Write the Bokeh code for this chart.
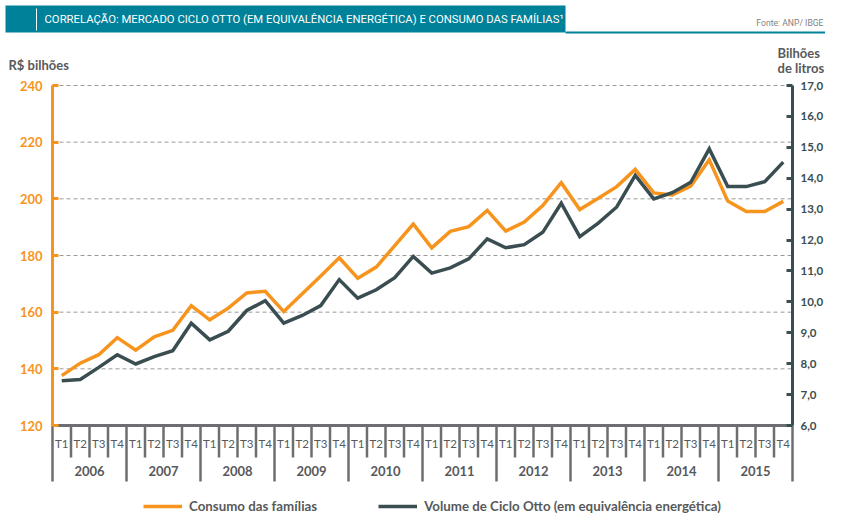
from bokeh.plotting import figure
from bokeh.models import (Range1d, LinearAxis, FixedTicker, Label, BoxAnnotation,
                          Legend, LegendItem, CustomJSTickFormatter, ColumnDataSource)
from bokeh.core.properties import value
from bokeh.embed import file_html
from bokeh.resources import INLINE

# ---------------- data ----------------
years = ["2006", "2007", "2008", "2009", "2010", "2011", "2012", "2013", "2014", "2015"]
quarters = ["T1", "T2", "T3", "T4"]

consumo = [  # R$ bilhões
    137.6, 142.0, 145.0, 151.0,
    146.6, 151.3, 153.6, 162.3,
    157.3, 161.4, 166.8, 167.4,
    160.2, 166.5, 172.8, 179.2,
    172.0, 175.9, 183.5, 191.1,
    182.7, 188.5, 190.2, 195.9,
    188.6, 191.8, 197.6, 205.7,
    196.2, 200.2, 204.3, 210.4,
    202.1, 201.4, 204.5, 213.8,
    199.2, 195.5, 195.5, 199.1,
]
volume = [  # bilhões de litros
    7.45, 7.49, 7.88, 8.29,
    7.99, 8.23, 8.42, 9.31,
    8.77, 9.05, 9.72, 10.04,
    9.31, 9.56, 9.88, 10.72,
    10.12, 10.39, 10.78, 11.47,
    10.93, 11.10, 11.39, 12.04,
    11.75, 11.85, 12.25, 13.19,
    12.11, 12.55, 13.07, 14.09,
    13.33, 13.53, 13.87, 14.95,
    13.73, 13.73, 13.89, 14.52,
]
left_ticks = [120, 140, 160, 180, 200, 220, 240]
right_ticks = [6, 7, 8, 9, 10, 11, 12, 13, 14, 15, 16, 17]

title_text = "CORRELAÇÃO: MERCADO CICLO OTTO (EM EQUIVALÊNCIA ENERGÉTICA) E CONSUMO DAS FAMÍLIAS¹"
source_text = "Fonte: ANP/ IBGE"
left_title = "R$ bilhões"
right_title = ["Bilhões", "de litros"]
label_consumo = "Consumo das famílias"
label_volume = "Volume de Ciclo Otto (em equivalência energética)"

# ---------------- style ----------------
ORANGE = "#F7941D"
DARK = "#3A4E51"
TEAL = "#00819A"
GRAY_TXT = "#58595B"
GRAY_LINE = "#6D6E71"
FONT_S = "Lato"
COND_S = "Roboto"
FONT = value(FONT_S)

W, H = 825, 515
X0_PX, COL_PX = 52.0, 18.5           # plot area left edge, quarter width
Y240_PX, PX_PER_Y = 85.0, 340.0 / 120.0
PX_PER_V = 340.0 / 11.0


def dx(px):  # canvas-pixel x -> data x
    return (px - X0_PX) / COL_PX


def dy(py):  # canvas-pixel y -> left-axis data y
    return 240 - (py - Y240_PX) / PX_PER_Y


def dv(py):  # canvas-pixel y -> right-axis data y
    return 17 - (py - Y240_PX) / PX_PER_V


p = figure(width=W, height=H, x_range=Range1d(dx(0), dx(W)), y_range=Range1d(dy(H), dy(0)),
           x_axis_type=None, y_axis_type=None, toolbar_location=None, output_backend="svg",
           min_border=0)
p.extra_y_ranges = {"vol": Range1d(dv(H), dv(0))}
p.outline_line_color = None
p.background_fill_color = "white"
p.border_fill_color = "white"

n = len(years) * len(quarters)

# dashed grid lines (between the two axes)
p.segment(x0=0, y0=left_ticks[1:], x1=n, y1=left_ticks[1:], line_color="#9A9A9A",
          line_width=1, line_dash="4 3")

# axes
ax_l = LinearAxis(ticker=FixedTicker(ticks=left_ticks), bounds=(120, 240), fixed_location=0,
                  axis_line_color=ORANGE, axis_line_width=3,
                  major_tick_line_color=ORANGE, major_tick_line_width=3,
                  major_tick_in=6, major_tick_out=0, minor_tick_line_color=None,
                  major_label_text_color=ORANGE, major_label_text_font=FONT_S,
                  major_label_text_font_style="bold", major_label_text_font_size="13px",
                  major_label_standoff=10)
p.add_layout(ax_l, "left")
ax_r = LinearAxis(y_range_name="vol", ticker=FixedTicker(ticks=right_ticks), bounds=(6, 17),
                  fixed_location=n,
                  formatter=CustomJSTickFormatter(code="return tick.toFixed(1).replace('.', ',');"),
                  axis_line_color=DARK, axis_line_width=3,
                  major_tick_line_color=DARK, major_tick_line_width=3,
                  major_tick_in=6, major_tick_out=0, minor_tick_line_color=None,
                  major_label_text_color=DARK, major_label_text_font=FONT_S,
                  major_label_text_font_style="bold", major_label_text_font_size="11.5px",
                  major_label_standoff=8)
p.add_layout(ax_r, "right")

# category box (quarters / years)
xs = [i + 0.5 for i in range(n)]
q_sep = [i for i in range(n + 1) if i % 4 != 0]
y_sep = [i for i in range(n + 1) if i % 4 == 0]
p.segment(x0=q_sep, y0=120, x1=q_sep, y1=dy(457), line_color=GRAY_LINE, line_width=2.5)
p.segment(x0=y_sep, y0=120, x1=y_sep, y1=dy(481), line_color=GRAY_LINE, line_width=2.5)
p.segment(x0=[0], y0=[120], x1=[n], y1=[120], line_color=GRAY_LINE, line_width=3)

qsrc = ColumnDataSource(dict(x=xs, t=[quarters[i % 4] for i in range(n)]))
p.text(x="x", y=dy(443), text="t", source=qsrc, text_align="center", text_baseline="middle",
       text_font=FONT, text_font_size="11.5px", text_color=GRAY_TXT)
ysrc = ColumnDataSource(dict(x=[4 * k + 2 for k in range(len(years))], t=years))
p.text(x="x", y=dy(470), text="t", source=ysrc, text_align="center", text_baseline="middle",
       text_font=FONT, text_font_size="13px", text_font_style="bold", text_color=GRAY_TXT)

# series
src = ColumnDataSource(dict(x=xs, consumo=consumo, volume=volume))
r1 = p.line("x", "consumo", source=src, line_color=ORANGE, line_width=3.5, line_join="miter")
r2 = p.line("x", "volume", source=src, y_range_name="vol", line_color=DARK, line_width=3.5,
            line_join="miter")

legend = Legend(items=[LegendItem(label=label_consumo, renderers=[r1]),
                       LegendItem(label=label_volume, renderers=[r2])],
                orientation="horizontal", location=(143, 1),
                glyph_width=39, glyph_height=12, label_height=12, label_standoff=7,
                spacing=61, padding=0, margin=0, border_line_color=None,
                background_fill_alpha=0, label_text_font=FONT_S, label_text_font_style="bold",
                label_text_font_size="13.3px", label_text_color=GRAY_TXT)
p.add_layout(legend, "center")

# header
p.add_layout(BoxAnnotation(left=dx(5), right=dx(565), top=dy(5), bottom=dy(32),
                           fill_color=TEAL, fill_alpha=1, line_color=None))
p.add_layout(BoxAnnotation(left=dx(565), right=dx(825), top=dy(31), bottom=dy(33),
                           fill_color=TEAL, fill_alpha=1, line_color=None))
p.add_layout(BoxAnnotation(left=dx(35.5), right=dx(36.5), top=dy(8), bottom=dy(30),
                           fill_color="white", fill_alpha=1, line_color=None))
p.add_layout(Label(x=dx(44), y=dy(18.5), text=title_text, text_color="white",
                   text_font=COND_S, text_font_size="11.3px", text_baseline="middle"))
p.add_layout(Label(x=dx(823), y=dy(22), text=source_text, text_color="#7F7F7F",
                   text_font=COND_S, text_font_size="8.6px", text_baseline="middle",
                   text_align="right"))
p.add_layout(Label(x=dx(8), y=dy(64), text=left_title, text_color=GRAY_TXT,
                   text_font=FONT_S, text_font_size="13px", text_font_style="bold",
                   text_baseline="middle"))
p.add_layout(Label(x=dx(777), y=dy(52), text=right_title[0], text_color=GRAY_TXT,
                   text_font=FONT_S, text_font_size="13px", text_font_style="bold",
                   text_baseline="middle"))
p.add_layout(Label(x=dx(777), y=dy(67), text=right_title[1], text_color=GRAY_TXT,
                   text_font=FONT_S, text_font_size="13px", text_font_style="bold",
                   text_baseline="middle"))

open("out.html", "w").write(file_html(p, INLINE))
